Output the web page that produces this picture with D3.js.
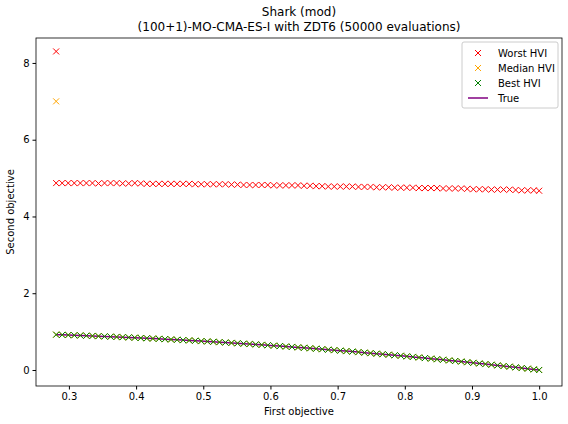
<!DOCTYPE html>
<html><head><meta charset="utf-8">
<script src="https://cdn.jsdelivr.net/npm/d3@7"></script>
<style>body{margin:0;background:#fff}text{font-family:"DejaVu Sans",sans-serif}</style>
</head><body><div id="chart"></div>
<script>
var xs = [0.281,0.290,0.299,0.308,0.317,0.326,0.335,0.344,0.353,0.362,0.371,0.380,0.389,0.398,0.407,0.416,0.425,0.434,0.443,0.452,
  0.461,0.470,0.479,0.488,0.497,0.506,0.515,0.524,0.533,0.542,0.551,0.560,0.569,0.578,0.587,0.596,0.605,0.614,0.623,0.632,
  0.641,0.650,0.659,0.668,0.677,0.686,0.695,0.704,0.713,0.722,0.731,0.740,0.749,0.758,0.767,0.776,0.785,0.794,0.803,0.812,
  0.821,0.830,0.839,0.848,0.857,0.866,0.875,0.884,0.893,0.902,0.911,0.920,0.929,0.938,0.947,0.956,0.965,0.974,0.983,0.992,1.000];
var frontY = [0.921,0.916,0.911,0.905,0.900,0.894,0.888,0.882,0.875,0.869,0.862,0.856,0.849,0.842,0.834,0.827,0.819,0.812,0.804,0.796,
  0.787,0.779,0.771,0.762,0.753,0.744,0.735,0.725,0.716,0.706,0.696,0.686,0.676,0.666,0.655,0.645,0.634,0.623,0.612,0.601,
  0.589,0.578,0.566,0.554,0.542,0.529,0.517,0.504,0.492,0.479,0.466,0.452,0.439,0.425,0.412,0.398,0.384,0.370,0.355,0.341,
  0.326,0.311,0.296,0.281,0.266,0.250,0.234,0.219,0.203,0.186,0.170,0.154,0.137,0.120,0.103,0.086,0.069,0.051,0.034,0.016,0.000];
var worstY = [4.87,4.87,4.87,4.87,4.87,4.87,4.87,4.86,4.87,4.87,4.87,4.86,4.86,4.87,4.86,4.85,4.85,4.85,4.85,4.85,
  4.85,4.85,4.85,4.84,4.84,4.84,4.84,4.84,4.84,4.83,4.83,4.82,4.82,4.82,4.82,4.82,4.81,4.81,4.81,4.81,
  4.81,4.80,4.80,4.79,4.79,4.78,4.78,4.78,4.78,4.78,4.77,4.77,4.77,4.76,4.76,4.76,4.75,4.75,4.75,4.75,
  4.74,4.74,4.74,4.74,4.73,4.73,4.73,4.73,4.72,4.71,4.71,4.71,4.70,4.70,4.70,4.70,4.69,4.68,4.68,4.68,4.67];
var medianY = frontY;
var bestY = frontY;
var outliers = [{x:0.281, y:8.3, s:"Worst HVI"}, {x:0.281, y:7.0, s:"Median HVI"}];
var seriesNames = ["Worst HVI","Median HVI","Best HVI"];
var seriesColors = {"Worst HVI":"red","Median HVI":"orange","Best HVI":"green","True":"purple"};
var xTicks = [0.3,0.4,0.5,0.6,0.7,0.8,0.9,1.0];
var yTicks = [0,2,4,6,8];

var W = 568, H = 424, L = 36, R = 562, T = 38, B = 386;
var svg = d3.select("#chart").append("svg").attr("width",W).attr("height",H);
var x = d3.scaleLinear().domain([0.251,1.034]).range([L,R]);
var y = d3.scaleLinear().domain([-0.417,8.65]).range([B,T]);

var ax = svg.append("g").attr("transform","translate(0,"+B+")")
  .call(d3.axisBottom(x).tickValues(xTicks).tickSize(3.5).tickPadding(3).tickFormat(d3.format(".1f")));
var ay = svg.append("g").attr("transform","translate("+L+",0)")
  .call(d3.axisLeft(y).tickValues(yTicks).tickSize(3.5).tickPadding(3));
[ax,ay].forEach(function(a){ a.select(".domain").remove(); a.selectAll("text").attr("font-size",10).attr("fill","#000"); });

// true front line
svg.append("path").datum(xs.map(function(v,i){return [v,frontY[i]];}))
  .attr("d", d3.line().x(function(d){return x(d[0]);}).y(function(d){return y(d[1]);}))
  .attr("fill","none").attr("stroke","purple").attr("stroke-width",1.5);

function cross(g, px, py, c){
  g.append("path").attr("d","M"+(px-3)+","+(py-3)+"L"+(px+3)+","+(py+3)+"M"+(px-3)+","+(py+3)+"L"+(px+3)+","+(py-3))
   .attr("stroke",c).attr("stroke-width",1).attr("fill","none");
}
var sets = {"Worst HVI":worstY,"Median HVI":medianY,"Best HVI":bestY};
seriesNames.forEach(function(n){
  var g = svg.append("g");
  xs.forEach(function(v,i){ cross(g, x(v), y(sets[n][i]), seriesColors[n]); });
  outliers.filter(function(o){return o.s===n;}).forEach(function(o){ cross(g, x(o.x), y(o.y), seriesColors[n]); });
});

svg.append("rect").attr("x",L).attr("y",T).attr("width",R-L).attr("height",B-T)
  .attr("fill","none").attr("stroke","#000").attr("stroke-width",0.8);

svg.append("text").attr("x",(L+R)/2).attr("y",16).attr("text-anchor","middle").attr("font-size",12).text("Shark (mod)");
svg.append("text").attr("x",(L+R)/2).attr("y",31).attr("text-anchor","middle").attr("font-size",12).text("(100+1)-MO-CMA-ES-I with ZDT6 (50000 evaluations)");
svg.append("text").attr("x",(L+R)/2).attr("y",415).attr("text-anchor","middle").attr("font-size",10).text("First objective");
svg.append("text").attr("transform","translate(14,"+((T+B)/2)+") rotate(-90)").attr("text-anchor","middle").attr("font-size",10).text("Second objective");

// legend
var lg = svg.append("g").attr("transform","translate(462,42)");
lg.append("rect").attr("width",96).attr("height",66).attr("rx",2).attr("fill","#fff").attr("fill-opacity",0.8).attr("stroke","#ccc");
seriesNames.concat(["True"]).forEach(function(n,i){
  var cy = 11 + i*15;
  if(n==="True") lg.append("line").attr("x1",6).attr("x2",26).attr("y1",cy).attr("y2",cy).attr("stroke","purple").attr("stroke-width",1.5);
  else cross(lg, 16, cy, seriesColors[n]);
  lg.append("text").attr("x",36).attr("y",cy+3.5).attr("font-size",10).text(n);
});
</script></body></html>
